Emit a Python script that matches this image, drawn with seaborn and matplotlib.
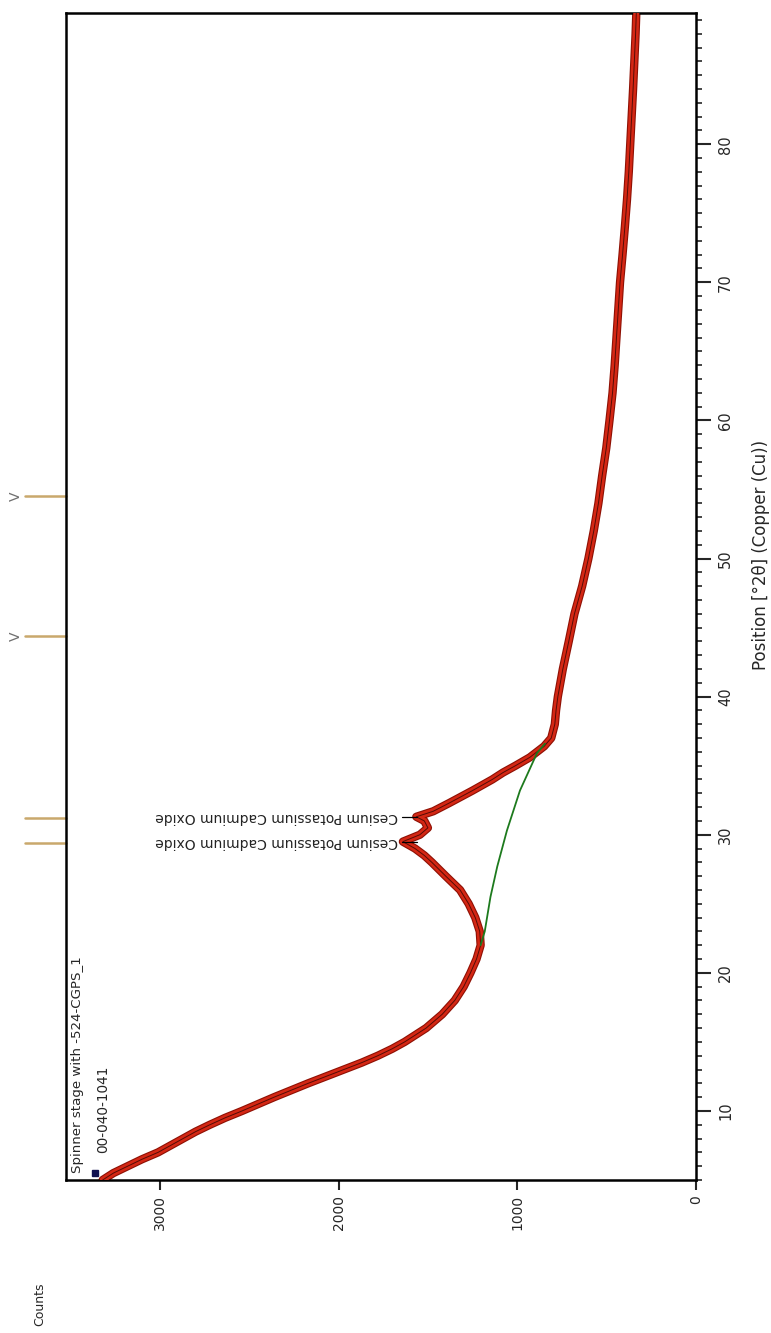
import matplotlib
matplotlib.use("Agg")
import matplotlib.pyplot as plt
import matplotlib.transforms as mtransforms
from matplotlib.ticker import MultipleLocator
import seaborn as sns
import pandas as pd

# scan: position [deg 2theta] and counts
position = [5.0, 5.5, 6.0, 6.5, 7.0, 7.5, 8.0, 8.5, 9.0, 9.5, 10.0, 10.5, 11.0, 11.5,
            12.0, 12.5, 13.0, 13.5, 14.0, 14.5, 15.0, 16.0, 17.0, 18.0, 19.0, 20.0,
            21.0, 22.0, 23.0, 24.0, 25.0, 26.0, 27.0, 28.0, 28.5, 29.0, 29.5, 30.0,
            30.5, 31.0, 31.3, 31.7, 32.3, 33.2, 34.0, 34.5, 35.0, 35.6, 36.4, 37.0,
            38.0, 39.0, 40.0, 42.0, 44.0, 46.0, 48.0, 50.0, 52.0, 54.0, 56.0, 58.0,
            60.0, 62.0, 64.0, 66.0, 68.0, 70.0, 72.0, 74.0, 76.0, 78.0, 80.0, 82.0,
            84.0, 86.0, 88.0, 89.5]
counts = [3320, 3260, 3180, 3100, 3010, 2940, 2870, 2800, 2720, 2635, 2540, 2450, 2360, 2265,
          2170, 2070, 1970, 1870, 1780, 1700, 1630, 1510, 1420, 1350, 1300, 1262,
          1228, 1205, 1210, 1235, 1272, 1320, 1400, 1478, 1520, 1572, 1640, 1545,
          1500, 1520, 1565, 1470, 1380, 1250, 1140, 1080, 1010, 930, 850, 810,
          790, 783, 773, 745, 712, 680, 637, 602, 572, 546, 525, 502,
          484, 467, 455, 445, 435, 425, 411, 398, 386, 376, 368, 360,
          352, 345, 338, 334]

# fitted background under the peaks
bg_position = [22.0, 23.0, 25.5, 27.7, 30.3, 33.2, 35.9, 36.6]
bg_counts = [1205, 1182, 1150, 1112, 1058, 985, 890, 845]

# reference pattern 00-040-1041
ref_position = [29.4, 31.2, 44.4, 54.5]
ref_marked = [False, False, True, True]

peak_position = [29.5, 31.3]
peak_labels = ["Cesium Potassium Cadmium Oxide", "Cesium Potassium Cadmium Oxide"]

scan = pd.DataFrame({"position": position, "counts": counts})
bg = pd.DataFrame({"position": bg_position, "counts": bg_counts})

sns.set_style("white")
plt.rcParams["font.family"] = ["DejaVu Sans"]

W, H = 771, 1333
fig = plt.figure(figsize=(W / 100, H / 100), dpi=100)
ax = fig.add_axes([66 / W, 1 - 1180 / H, (696 - 66) / W, (1180 - 13) / H])

# the picture is the usual diffractogram turned a quarter turn
sns.lineplot(data=scan, x="counts", y="position", orient="y", sort=False, estimator=None,
             color="#8e1004", linewidth=6.0, ax=ax, zorder=2)
sns.lineplot(data=scan, x="counts", y="position", orient="y", sort=False, estimator=None,
             color="#d42714", linewidth=4.4, ax=ax, zorder=3)
sns.lineplot(data=scan, x="counts", y="position", orient="y", sort=False, estimator=None,
             color="#2a0300", linewidth=0.7, alpha=0.75, ax=ax, zorder=4)
sns.lineplot(data=bg, x="counts", y="position", orient="y", sort=False, estimator=None,
             color="#1d7a1d", linewidth=1.3, ax=ax, zorder=5)

ax.set_xlim(3525, 0)
ax.set_ylim(5, 89.5)
ax.set_xlabel("")
ax.set_ylabel("")

ax.set_xticks([0, 1000, 2000, 3000])
ax.yaxis.tick_right()
ax.yaxis.set_minor_locator(MultipleLocator(1))
ax.set_yticks(range(10, 90, 10))
ax.tick_params(axis="x", bottom=True, direction="out", length=7, width=1.5,
               labelsize=10, labelrotation=90, pad=4)
ax.tick_params(axis="y", which="major", right=True, left=False, direction="out",
               length=11, width=1.5, labelsize=10.5, labelrotation=90, pad=5)
ax.tick_params(axis="y", which="minor", right=True, left=False, direction="out",
               length=4.5, width=1.2)
for lab in ax.get_yticklabels():
    lab.set_va("center")
for s in ax.spines.values():
    s.set_visible(True)
    s.set_color("black")
    s.set_linewidth(1.8)

# peak labels, upside down like the rest of the turned chart
for p, lab in zip(peak_position, peak_labels):
    ax.plot([1560, 1645], [p, p], color="black", linewidth=0.9, zorder=6)
    ax.text(1668, p, lab, rotation=180, ha="right", va="center", fontsize=10,
            color="#222222", zorder=6)

# reference sticks outside the frame
trans = mtransforms.blended_transform_factory(ax.transAxes, ax.transData)
for p, m in zip(ref_position, ref_marked):
    ax.plot([-0.065, 0], [p, p], transform=trans, color="#c9a86c", linewidth=1.8,
            clip_on=False, zorder=1)
    if m:
        ax.text(-0.08, p, "V", transform=trans, rotation=90, ha="center", va="center",
                fontsize=10, color="#707070", clip_on=False)

# legend block
ax.text(0.019, 0.006, "Spinner stage with -524-CGPS_1", transform=ax.transAxes,
        rotation=90, ha="center", va="bottom", fontsize=9.6)
ax.text(0.059, 0.023, "00-040-1041", transform=ax.transAxes,
        rotation=90, ha="center", va="bottom", fontsize=9.8)
ax.plot([0.046], [0.006], marker="s", markersize=4, color="#101050",
        transform=ax.transAxes, clip_on=False, zorder=7)

fig.text(40 / W, 1 - 1304 / H, "Counts", rotation=90, ha="center", va="center", fontsize=9)
fig.text(761 / W, 1 - 555 / H, "Position [°2θ] (Copper (Cu))", rotation=90,
         ha="center", va="center", fontsize=12)

fig.savefig("out.png", dpi=100, facecolor="white")
